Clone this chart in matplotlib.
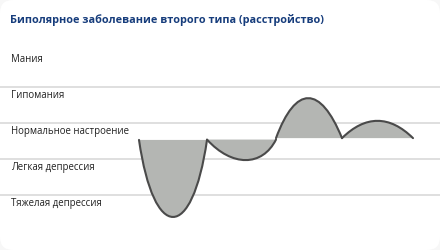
import matplotlib
matplotlib.use("Agg")
import matplotlib.pyplot as plt
from matplotlib.path import Path
from matplotlib.patches import PathPatch, FancyBboxPatch

# ---- data ----
title = "Биполярное заболевание второго типа (расстройство)"
mood_labels = ["Мания", "Гипомания", "Нормальное настроение", "Легкая депрессия", "Тяжелая депрессия"]
mood_levels = [2, 1, 0, -1, -2]
band_edges = [1.5, 0.5, -0.5, -1.5]

# mood episodes: start/end time, baseline and extreme value (mood units)
episode_start = [139, 207, 276, 342]
episode_end = [207, 276, 342, 413]
episode_base = [0.03, 0.04, 0.08, 0.08]
episode_peak = [-2.11, -0.53, 1.19, 0.56]

# ---- style ----
W, H, DPI = 440, 250, 100
ctrl_left = [0.22, 0.36, 0.30, 0.33]
ctrl_right = [0.22, 0.20, 0.33, 0.33]
fill_col = "#b4b6b3"
line_col = "#4a4a4a"
grid_col = "#d6d6d6"
title_col = "#173d7c"
text_col = "#222222"
plt.rcParams['font.family'] = ['Open Sans', 'DejaVu Sans']

fig = plt.figure(figsize=(W / DPI, H / DPI), dpi=DPI)
fig.patch.set_facecolor("#f7f7f7")
bg = FancyBboxPatch((0.0, 0.0), 1.0, 1.0, boxstyle="round,pad=0,rounding_size=0.03",
                    transform=fig.transFigure, facecolor="white", edgecolor="none",
                    mutation_aspect=W / H, zorder=-10)
fig.patches.append(bg)

ax = fig.add_axes([0, 0, 1, 1])
ax.set_zorder(5)
ax.set_xlim(0, W)
ax.set_ylim((141 - H) / 36.0, 141 / 36.0)
ax.axis("off")

for e in band_edges:
    ax.axhline(e, color=grid_col, lw=1.1, zorder=1)

for lab, lv in zip(mood_labels, mood_levels):
    ax.text(11, lv + 0.26, lab, fontsize=6.95, color=text_col, va="center", ha="left", zorder=3)

ax.text(10, (141 - 20) / 36.0, title, fontsize=7.85, fontweight="bold", color=title_col,
        va="center", ha="left", zorder=3)

for x0, x1, b, p, fl, fr in zip(episode_start, episode_end, episode_base, episode_peak,
                                ctrl_left, ctrl_right):
    c = b + 4.0 / 3.0 * (p - b)
    verts = [(x0, b), (x0 + fl * (x1 - x0), c), (x1 - fr * (x1 - x0), c), (x1, b)]
    codes = [Path.MOVETO, Path.CURVE4, Path.CURVE4, Path.CURVE4]
    ax.add_patch(PathPatch(Path(verts + [(x0, b)], codes + [Path.CLOSEPOLY]),
                           facecolor=fill_col, edgecolor="none", zorder=2))
    ax.add_patch(PathPatch(Path(verts, codes), facecolor="none", edgecolor=line_col,
                           lw=1.5, capstyle="round", joinstyle="round", zorder=4))

fig.savefig("out.png", dpi=DPI, facecolor=fig.get_facecolor())
